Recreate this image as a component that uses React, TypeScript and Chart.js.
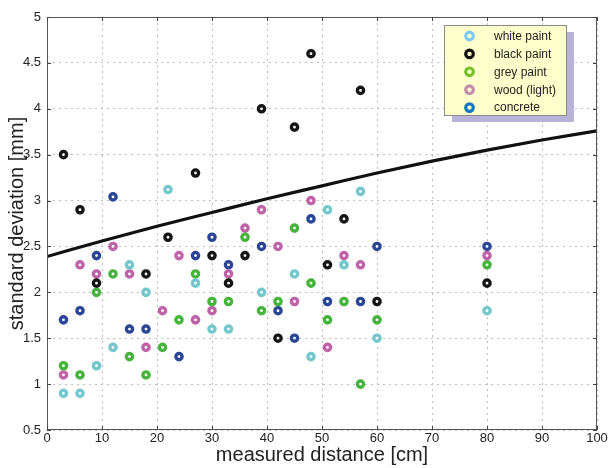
import React, { useEffect, useRef } from "react";
import { Chart, registerables } from "chart.js";

Chart.register(...registerables);

const seriesNames = ["white paint", "black paint", "grey paint", "wood (light)", "concrete"];
const pointColors = ["#74c8cc", "#151515", "#46b43c", "#c062a8", "#2c4696"];
const legendColors = ["#7ccaf0", "#111111", "#74c02c", "#c48cac", "#1478c0"];

const whiteX = [3, 6, 9, 12, 15, 18, 22, 27, 30, 33, 39, 45, 48, 51, 54, 57, 60, 80];
const whiteY = [0.9, 0.9, 1.2, 1.4, 2.3, 2.0, 3.12, 2.1, 1.6, 1.6, 2.0, 2.2, 1.3, 2.9, 2.3, 3.1, 1.5, 1.8];

const blackX = [3, 6, 9, 18, 22, 27, 30, 33, 36, 39, 42, 45, 48, 51, 54, 57, 60, 80];
const blackY = [3.5, 2.9, 2.1, 2.2, 2.6, 3.3, 2.4, 2.1, 2.4, 4.0, 1.5, 3.8, 4.6, 2.3, 2.8, 4.2, 1.9, 2.1];

const greyX = [3, 6, 9, 12, 15, 18, 21, 24, 27, 30, 33, 36, 39, 42, 45, 48, 51, 54, 57, 60, 80];
const greyY = [1.2, 1.1, 2.0, 2.2, 1.3, 1.1, 1.4, 1.7, 2.2, 1.9, 1.9, 2.6, 1.8, 1.9, 2.7, 2.1, 1.7, 1.9, 1.0, 1.7, 2.3];

const woodX = [3, 6, 9, 12, 15, 18, 21, 24, 27, 30, 33, 36, 39, 42, 45, 48, 51, 54, 57, 80];
const woodY = [1.1, 2.3, 2.2, 2.5, 2.2, 1.4, 1.8, 2.4, 1.7, 1.8, 2.2, 2.7, 2.9, 2.5, 1.9, 3.0, 1.4, 2.4, 2.3, 2.4];

const concreteX = [3, 6, 9, 12, 15, 18, 24, 27, 30, 33, 39, 42, 45, 48, 51, 57, 60, 80];
const concreteY = [1.7, 1.8, 2.4, 3.04, 1.6, 1.6, 1.3, 2.4, 2.6, 2.3, 2.5, 1.8, 1.5, 2.8, 1.9, 1.9, 2.5, 2.5];

const curveX = [0, 10, 20, 30, 40, 50, 60, 70, 80, 90, 100];
const curveY = [2.39, 2.56, 2.72, 2.87, 3.02, 3.16, 3.3, 3.43, 3.55, 3.66, 3.76];

const xTitle = "measured distance [cm]";
const yTitle = "standard deviation [mm]";

const FONT = "'Liberation Sans', Arial, sans-serif";

const zip = (xs: number[], ys: number[]) => xs.map((x, i) => ({ x, y: ys[i] }));

const frameAndLegend = {
  id: "frameAndLegend",
  afterDatasetsDraw(chart: any) {
    const { ctx, chartArea } = chart;
    const { left, right, top, bottom } = chartArea;
    ctx.save();
    ctx.strokeStyle = "#555";
    ctx.lineWidth = 1;
    ctx.strokeRect(left + 0.5, top + 0.5, right - left - 1, bottom - top - 1);
    ctx.strokeStyle = "#444";
    const xs = chart.scales.x;
    const ys = chart.scales.y;
    ctx.beginPath();
    xs.ticks.forEach((t: any) => {
      const px = Math.round(xs.getPixelForValue(t.value)) + 0.5;
      ctx.moveTo(px, bottom); ctx.lineTo(px, bottom - 4);
      ctx.moveTo(px, top); ctx.lineTo(px, top + 4);
    });
    ys.ticks.forEach((t: any) => {
      const py = Math.round(ys.getPixelForValue(t.value)) + 0.5;
      ctx.moveTo(left, py); ctx.lineTo(left + 4, py);
      ctx.moveTo(right, py); ctx.lineTo(right - 4, py);
    });
    ctx.stroke();
    ctx.restore();
  },
  afterDraw(chart: any) {
    const { ctx } = chart;
    ctx.save();
    const bx = 444, by = 25, bw = 122, bh = 90;
    ctx.fillStyle = "#b7b3d9";
    ctx.fillRect(bx + 8, by + 7, bw, bh);
    ctx.fillStyle = "#ffffcc";
    ctx.fillRect(bx, by, bw, bh);
    ctx.strokeStyle = "#8a8a8a";
    ctx.lineWidth = 1;
    ctx.strokeRect(bx + 0.5, by + 0.5, bw, bh);
    ctx.font = "12px " + FONT;
    ctx.textBaseline = "middle";
    ctx.textAlign = "left";
    seriesNames.forEach((name, i) => {
      const cy = 36 + i * 17.9;
      ctx.beginPath();
      ctx.arc(469.5, cy, 3.8, 0, Math.PI * 2);
      ctx.strokeStyle = legendColors[i];
      ctx.lineWidth = 3.2;
      ctx.stroke();
      ctx.fillStyle = "#222";
      ctx.fillText(name, 494, cy + 0.5);
    });
    ctx.restore();
  },
};

export default function App() {
  const ref = useRef<HTMLCanvasElement>(null);
  useEffect(() => {
    if (!ref.current) return;
    const xsets = [whiteX, blackX, greyX, woodX, concreteX];
    const ysets = [whiteY, blackY, greyY, woodY, concreteY];
    const scatterSets = seriesNames.map((name, i) => ({
      type: "scatter" as const,
      label: name,
      data: zip(xsets[i], ysets[i]),
      pointRadius: 3.1,
      pointBorderWidth: 3.4,
      pointBorderColor: pointColors[i],
      pointBackgroundColor: "#ffffff",
      order: 2,
    }));
    const chart = new Chart(ref.current, {
      type: "scatter",
      data: {
        datasets: [
          ...scatterSets,
          {
            type: "line" as const,
            label: "fit",
            data: zip(curveX, curveY),
            borderColor: "#111",
            borderWidth: 3.2,
            pointRadius: 0,
            tension: 0.4,
            cubicInterpolationMode: "monotone",
            fill: false,
            order: 1,
          } as any,
        ],
      },
      options: {
        responsive: false,
        animation: false,
        layout: { padding: { top: 17, right: 16, left: 0, bottom: 0 } },
        plugins: { legend: { display: false }, tooltip: { enabled: false } },
        scales: {
          x: {
            type: "linear",
            min: 0,
            max: 100,
            ticks: { stepSize: 10, color: "#222", font: { family: FONT, size: 13 }, padding: 1 },
            grid: { color: "#bdbdbd", drawTicks: false, borderDash: [2, 4] } as any,
            border: { display: false, dash: [2, 4] },
            title: { display: true, text: xTitle, color: "#222", font: { family: FONT, size: 20 }, padding: { top: 0, bottom: 1 } },
            afterFit: (s: any) => { s.height = 38; },
          },
          y: {
            type: "linear",
            min: 0.5,
            max: 5,
            ticks: {
              stepSize: 0.5,
              color: "#222",
              font: { family: FONT, size: 13 },
              padding: 6,
              callback: (v: any) => String(Math.round(Number(v) * 10) / 10),
            },
            grid: { color: "#bdbdbd", drawTicks: false, borderDash: [2, 4] } as any,
            border: { display: false, dash: [2, 4] },
            title: { display: true, text: yTitle, color: "#222", font: { family: FONT, size: 20 }, padding: { top: 5, bottom: 0 } },
            afterFit: (s: any) => { s.width = 47; },
          },
        },
      },
      plugins: [frameAndLegend],
    });
    return () => chart.destroy();
  }, []);
  return (
    <div style={{ position: "fixed", left: 0, top: 0, width: 613, height: 468, background: "#fff" }}>
      <canvas ref={ref} width={613} height={468} />
    </div>
  );
}
